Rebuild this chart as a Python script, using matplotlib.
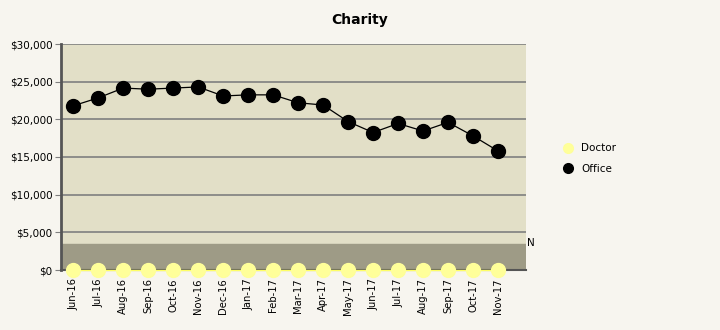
import matplotlib
matplotlib.use("Agg")
import matplotlib.pyplot as plt
from matplotlib.ticker import FuncFormatter

months = ["Jun-16", "Jul-16", "Aug-16", "Sep-16", "Oct-16", "Nov-16", "Dec-16",
          "Jan-17", "Feb-17", "Mar-17", "Apr-17", "May-17", "Jun-17", "Jul-17",
          "Aug-17", "Sep-17", "Oct-17", "Nov-17"]
office = [21800, 22850, 24150, 24000, 24150, 24300, 23100, 23250, 23250,
          22200, 21900, 19700, 18250, 19450, 18450, 19600, 17800, 15800]
doctor = [0] * len(months)
band_top = 3450

FIG_BG = "#f7f5ef"
PLOT_BG = "#e2dfc7"
BAND = "#9e9b86"
GRID = "#7f7f7f"

fig = plt.figure(figsize=(7.2, 3.3), dpi=100, facecolor=FIG_BG)
ax = fig.add_axes([61 / 720, 60 / 330, 465 / 720, 226 / 330])
ax.set_facecolor(PLOT_BG)

x = list(range(len(months)))
ax.axhspan(0, band_top, color=BAND, zorder=1)
for v in range(5000, 30001, 5000):
    ax.axhline(v, color=GRID, lw=1.2, zorder=1.5)

ax.plot(x, doctor, color="#ffff66", lw=1, marker="o", ms=10,
        mfc="#ffff99", mec="#ffff99", zorder=3, clip_on=False, label="Doctor")
ax.plot(x, office, color="black", lw=0.9, marker="o", ms=10,
        mfc="black", mec="black", zorder=4, label="Office")

ax.set_xlim(-0.49, 18.12)
ax.set_ylim(0, 30000)
ax.set_xticks(x)
ax.set_xticklabels(months, rotation=90, fontsize=7.2)
ax.set_yticks(range(0, 30001, 5000))
ax.yaxis.set_major_formatter(FuncFormatter(lambda v, p: f"${v:,.0f}"))
ax.tick_params(axis="y", labelsize=7.5, length=4, color=GRID, pad=2)
ax.tick_params(axis="x", length=3, color="#555555", pad=3)

for s in ["top", "right"]:
    ax.spines[s].set_visible(False)
ax.spines["left"].set_color("#555555")
ax.spines["left"].set_linewidth(2)
ax.spines["bottom"].set_color("#555555")
ax.spines["bottom"].set_linewidth(1.5)

fig.text(0.5, 1 - 20 / 330, "Charity", ha="center", va="center",
         fontsize=10, fontweight="semibold")
fig.text(527 / 720, 1 - 243 / 330, "N", ha="left", va="center", fontsize=7.5)

leg = fig.legend(loc="upper left", bbox_to_anchor=(553 / 720, 1 - 134 / 330),
                 frameon=False, fontsize=7.5, handlelength=1, handletextpad=0.8,
                 labelspacing=1.0, markerscale=0.7)
for h in leg.legend_handles:
    h.set_linestyle("none")

fig.savefig("out.png", dpi=100, facecolor=FIG_BG)
